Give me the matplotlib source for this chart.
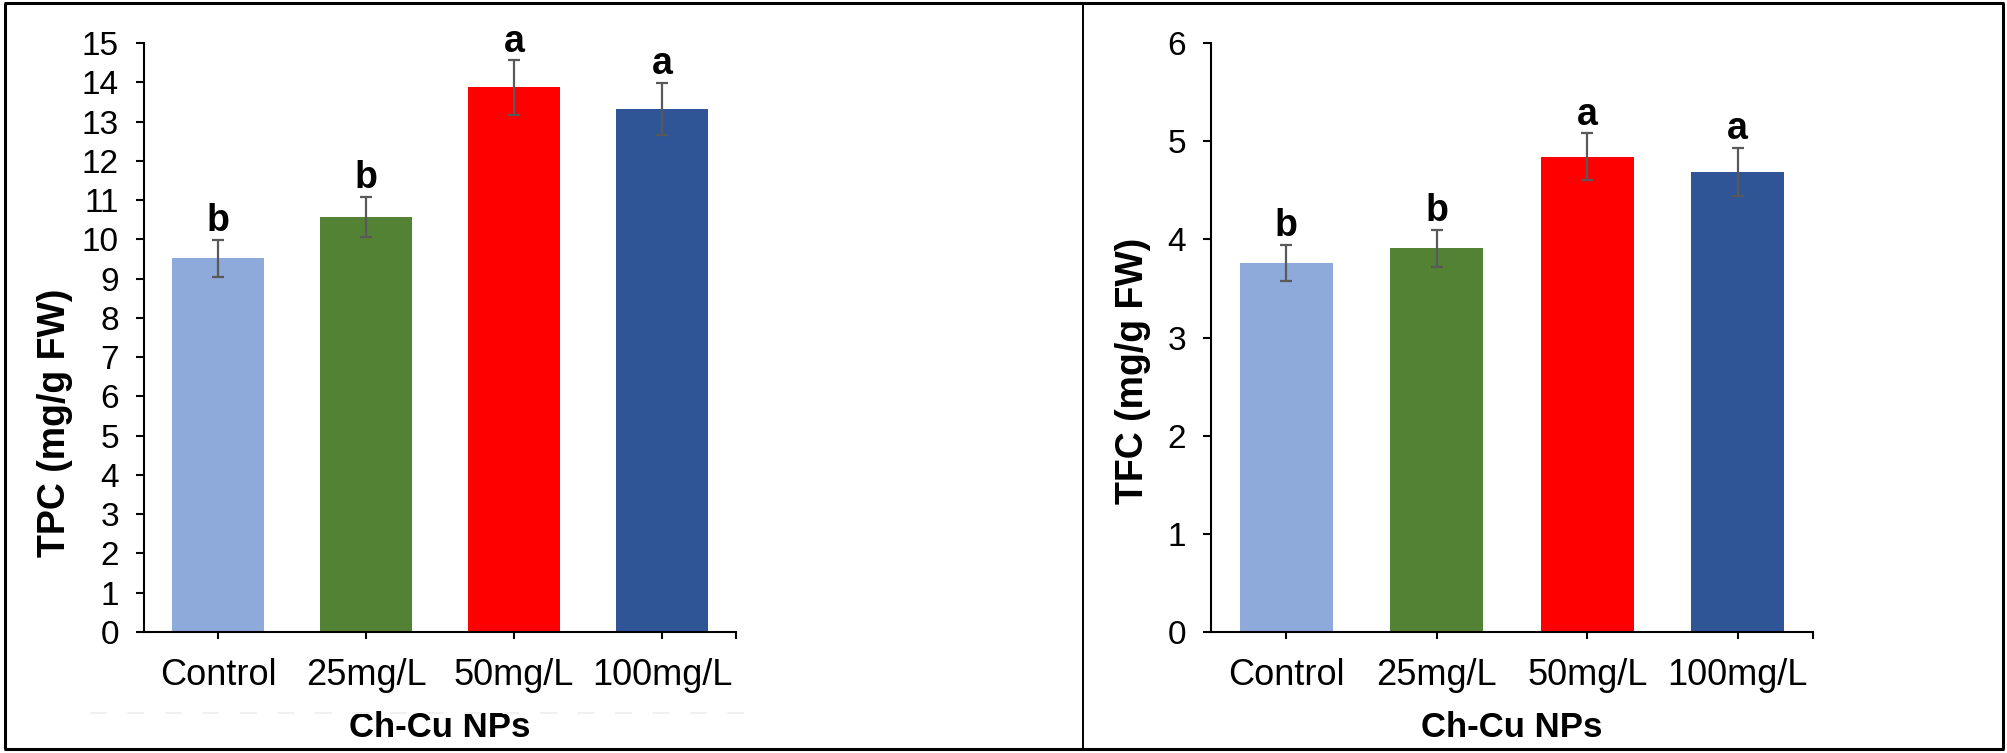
import matplotlib
matplotlib.use("Agg")
import matplotlib.pyplot as plt
from matplotlib.lines import Line2D

categories = ["Control", "25mg/L", "50mg/L", "100mg/L"]
colors = ["#8EAADB", "#548235", "#FF0000", "#2F5597"]

tpc_mean = [9.52, 10.57, 13.87, 13.32]
tpc_err = [0.47, 0.52, 0.70, 0.67]
tpc_letters = ["b", "b", "a", "a"]

tfc_mean = [3.76, 3.91, 4.84, 4.69]
tfc_err = [0.185, 0.19, 0.24, 0.245]
tfc_letters = ["b", "b", "a", "a"]

plt.rcParams["font.family"] = ["Liberation Sans", "DejaVu Sans"]

W, H = 2008, 753
fig = plt.figure(figsize=(W / 100, H / 100), dpi=100)


def panel(rect, means, errs, letters, ymax, ylabel, label_xy):
    ax = fig.add_axes(rect)
    x = [i + 0.5 for i in range(len(means))]
    ax.bar(x, means, width=0.62, color=colors, zorder=2)
    ax.errorbar(x, means, yerr=errs, fmt="none", ecolor="#595959",
                elinewidth=1.6, capsize=4.5, capthick=1.6, zorder=3)
    for xi, m, e, lt in zip(x, means, errs, letters):
        ax.annotate(lt, (xi, m + e), xytext=(0, 6), textcoords="offset points",
                    ha="center", va="baseline", fontsize=27, fontweight="bold")
    ax.set_xlim(0, 4)
    ax.set_ylim(0, ymax)
    ax.set_yticks(range(0, ymax + 1))
    ax.tick_params(axis="y", labelsize=24, length=6, width=1.5, pad=12)
    ax.set_xticks(x + [4])
    ax.set_xticklabels(categories + [""], fontsize=26)
    ax.tick_params(axis="x", length=5, width=1.5, pad=14)
    for s in ["top", "right"]:
        ax.spines[s].set_visible(False)
    for s in ["left", "bottom"]:
        ax.spines[s].set_linewidth(1.5)
    ax.set_xlabel("Ch-Cu NPs", fontsize=25, fontweight="bold", labelpad=13)
    ax.set_ylabel(ylabel, fontsize=27, fontweight="bold", va="center", ha="center")
    ax.yaxis.set_label_coords(*label_xy)
    return ax


ax1 = panel([144 / W, 1 - 632 / H, 592 / W, 589 / H], tpc_mean, tpc_err,
            tpc_letters, 15, "TPC (mg/g FW)", (-0.150, 0.355))
ax2 = panel([1211 / W, 1 - 632 / H, 602 / W, 589 / H], tfc_mean, tfc_err,
            tfc_letters, 6, "TFC (mg/g FW)", (-0.130, 0.443))

# faint dashed artifact under the left tick labels
fig.add_artist(Line2D([90 / W, 750 / W], [1 - 713 / H, 1 - 713 / H],
                      color="#f0f0f0", lw=1.5, ls=(0, (8, 10))))

# outer frame and divider
def fline(x0, y0, x1, y1, lw):
    fig.add_artist(Line2D([x0 / W, x1 / W], [1 - y0 / H, 1 - y1 / H],
                          color="black", lw=lw, solid_capstyle="butt"))

fline(4, 3, 2004, 3, 2.2)
fline(4, 749, 2004, 749, 2.2)
fline(5, 3, 5, 749, 2.2)
fline(2003, 3, 2003, 749, 2.2)
fline(1083, 3, 1083, 749, 1.4)

fig.savefig("out.png", dpi=100)
